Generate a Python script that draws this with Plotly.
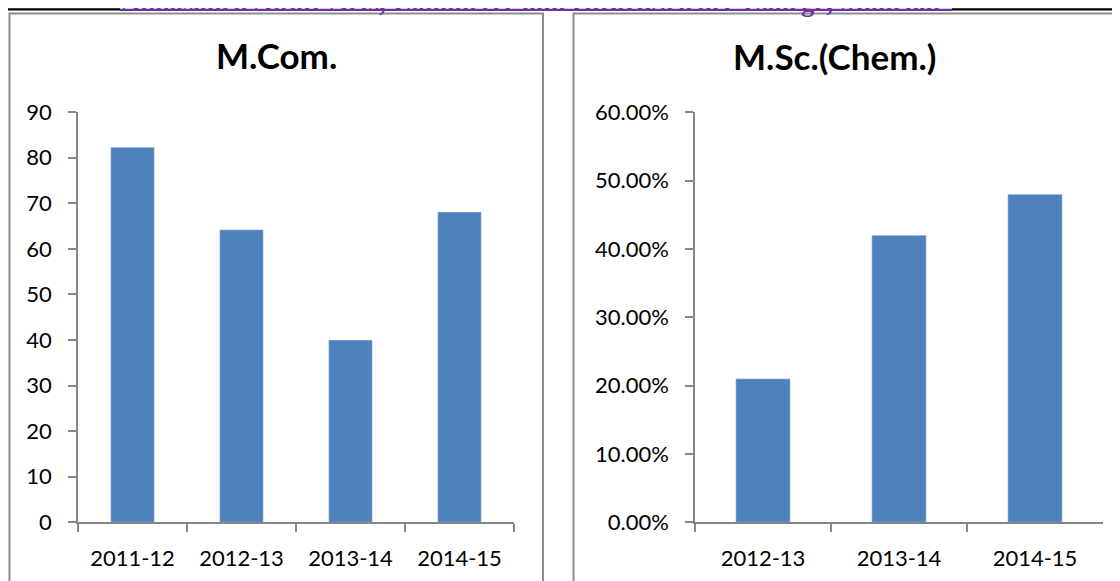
import plotly.graph_objects as go

# ---- data ----
mcom_years = ["2011-12", "2012-13", "2013-14", "2014-15"]
mcom_values = [82.3, 64.2, 40.0, 68.1]

msc_years = ["2012-13", "2013-14", "2014-15"]
msc_values = [0.21, 0.42, 0.48]

title_left = "M.Com."
title_right = "M.Sc.(Chem.)"
header_text = "Annasaheb Awate Arts, Commerce and H.B.G.Science College, Manchar"

W, H = 1120, 581
BAR = "#4F81BD"
AX = "#868686"
FONT = "Lato"
OFF = 8  # page offset of the figure (body margin)


def px(x):
    return (x - OFF) / W


def py(y):
    return 1 - (y - OFF) / H


fig = go.Figure()
fig.add_trace(go.Bar(x=mcom_years, y=mcom_values, marker_color=BAR,
                     width=0.4, xaxis="x", yaxis="y", showlegend=False))
fig.add_trace(go.Bar(x=msc_years, y=msc_values, marker_color=BAR,
                     width=0.4, xaxis="x2", yaxis="y2", showlegend=False))

ydom = [py(522.3), py(112.2)]
common_x = dict(type="category", tickson="boundaries", ticks="outside", ticklen=8,
                tickcolor=AX, tickwidth=1.5, showline=True, linecolor=AX, linewidth=1.5,
                showgrid=False, zeroline=False, automargin=False, ticklabelstandoff=16,
                tickfont=dict(family=FONT, size=22, color="black"))
common_y = dict(ticks="outside", ticklen=8, tickcolor=AX, tickwidth=1.5,
                showline=True, linecolor=AX, linewidth=1.5, showgrid=False,
                zeroline=False, automargin=False, ticklabelstandoff=12,
                tickfont=dict(family=FONT, size=22, color="black"),
                domain=ydom)

fig.update_layout(
    width=W, height=H, margin=dict(l=0, r=0, t=0, b=0, autoexpand=False),
    paper_bgcolor="white", plot_bgcolor="white",
    xaxis=dict(domain=[px(78), px(514)], anchor="y", **common_x),
    yaxis=dict(range=[0, 90], dtick=10, anchor="x", **common_y),
    xaxis2=dict(domain=[px(695), px(1103)], anchor="y2", **common_x),
    yaxis2=dict(range=[0, 0.6], dtick=0.1, tickformat=".2%", anchor="x2", **common_y),
)

shapes = [
    # panel borders
    dict(type="rect", xref="paper", yref="paper", x0=px(9.5), x1=px(543), y0=py(13.5), y1=py(600),
         line=dict(color="#8c8c8c", width=2)),
    dict(type="rect", xref="paper", yref="paper", x0=px(573.5), x1=px(1140), y0=py(13.5), y1=py(600),
         line=dict(color="#8c8c8c", width=2)),
    # header rules
    dict(type="line", xref="paper", yref="paper", x0=px(5), x1=px(120), y0=py(9.3), y1=py(9.3),
         line=dict(color="black", width=2.2)),
    dict(type="line", xref="paper", yref="paper", x0=px(120), x1=px(952), y0=py(9.8), y1=py(9.8),
         line=dict(color="#7030A0", width=2.2)),
    dict(type="line", xref="paper", yref="paper", x0=px(952), x1=px(1140), y0=py(9.3), y1=py(9.3),
         line=dict(color="black", width=2.2)),
    # partially visible logos
    dict(type="circle", xref="paper", yref="paper", x0=px(-11), x1=px(109), y0=py(5), y1=py(-115),
         line=dict(color="#c8c4dc", width=1.5)),
    dict(type="circle", xref="paper", yref="paper", x0=px(956.5), x1=px(1050.5), y0=py(3), y1=py(-91),
         line=dict(color="#8fb4d8", width=2.5)),
]
fig.update_layout(shapes=shapes)

annotations = [
    dict(text="<b>" + title_left + "</b>", xref="paper", yref="paper", x=px(276), y=py(55),
         xanchor="center", yanchor="middle", showarrow=False,
         font=dict(family=FONT, size=35, color="black")),
    dict(text="<b>" + title_right + "</b>", xref="paper", yref="paper", x=px(834), y=py(56),
         xanchor="center", yanchor="middle", showarrow=False,
         font=dict(family=FONT, size=35, color="black")),
    dict(text="<b>" + header_text + "</b>", xref="paper", yref="paper", x=px(119), y=py(19.5),
         xanchor="left", yanchor="bottom", showarrow=False,
         font=dict(family="Liberation Serif", size=26.6, color="#7030A0")),
]
fig.update_layout(annotations=annotations)

fig.write_html("out.html")
